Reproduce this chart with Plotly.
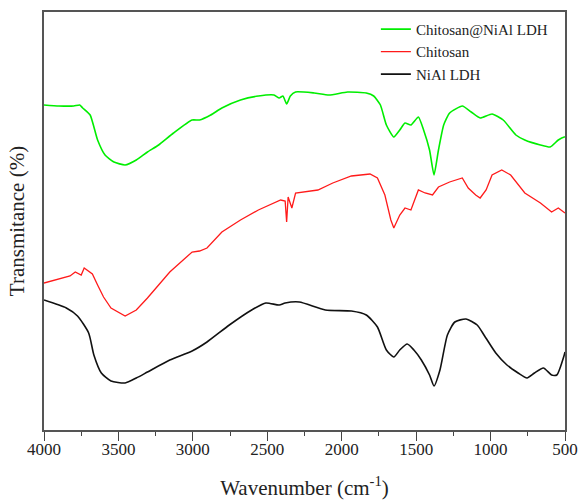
import plotly.graph_objects as go

# FTIR spectra, values (arbitrary transmittance units)
wn_green = [4000, 3900, 3800, 3760, 3740, 3690, 3640, 3590, 3530, 3455, 3380, 3305, 3230,
            3130, 3005, 2955, 2880, 2805, 2680, 2560, 2455, 2420, 2395, 2370, 2345, 2310,
            2185, 2085, 1960, 1835, 1785, 1740, 1700, 1650, 1610, 1575, 1535, 1485, 1450,
            1410, 1380, 1350, 1315, 1275, 1190, 1130, 1070, 990, 915, 830, 770, 665, 600,
            545, 505, 500]
t_green = [325, 324, 324, 325, 322, 315, 290, 275, 268, 265, 270, 278, 285,
           297, 310, 310, 315, 322, 330, 334, 335, 332, 334, 326, 334, 338,
           337, 335, 338, 337, 334, 325, 305, 293, 300, 307, 305, 313, 300,
           280, 255, 280, 305, 317, 324, 318, 312, 316, 310, 295, 290, 285, 283,
           290, 293, 293]

wn_red = [4000, 3900, 3825, 3790, 3750, 3730, 3675, 3640, 3600, 3550, 3455, 3380, 3305,
          3155, 3005, 2955, 2905, 2805, 2680, 2560, 2410, 2380, 2370, 2360, 2335, 2310,
          2160, 2060, 1935, 1810, 1760, 1710, 1670, 1650, 1610, 1575, 1535, 1485, 1440,
          1390, 1350, 1275, 1190, 1150, 1100, 1070, 1030, 990, 925, 865, 770, 665, 590,
          545, 505, 500]
t_red = [147, 151, 154, 158, 155, 162, 156, 145, 133, 122, 114, 120, 132,
         158, 178, 179, 182, 198, 210, 220, 230, 229, 208, 233, 222, 237,
         240, 247, 254, 256, 252, 235, 210, 202, 215, 222, 220, 240, 237,
         235, 243, 248, 252, 242, 235, 232, 240, 255, 260, 255, 237, 227, 218,
         222, 217, 217]

wn_black = [4000, 3850, 3775, 3700, 3665, 3615, 3550, 3455, 3380, 3305, 3155, 3005, 2905,
            2755, 2605, 2510, 2420, 2380, 2285, 2110, 1935, 1835, 1760, 1700, 1650, 1610,
            1560, 1515, 1465, 1410, 1380, 1340, 1290, 1240, 1165, 1090, 1040, 965, 890,
            815, 755, 705, 645, 590, 555, 505, 500]
t_black = [130, 122, 114, 97, 75, 57, 49, 47, 52, 58, 70, 79, 88,
           105, 120, 127, 125, 127, 128, 120, 119, 115, 103, 80, 73, 80,
           86, 80, 70, 55, 44, 60, 95, 108, 111, 105, 94, 77, 65,
           57, 52, 57, 62, 55, 55, 75, 78]

font = "Liberation Serif, Times New Roman, serif"

fig = go.Figure()
fig.add_trace(go.Scatter(x=wn_green, y=t_green, mode="lines", name="Chitosan@NiAl LDH",
                         line=dict(color="#00ee00", width=1.6, shape="spline", smoothing=0.5)))
fig.add_trace(go.Scatter(x=wn_red, y=t_red, mode="lines", name="Chitosan",
                         line=dict(color="#ff1a1a", width=1.3)))
fig.add_trace(go.Scatter(x=wn_black, y=t_black, mode="lines", name="NiAl LDH",
                         line=dict(color="#111111", width=1.6, shape="spline", smoothing=0.6)))

fig.update_layout(
    width=580, height=500,
    margin=dict(l=44, r=15, t=12, b=70),
    paper_bgcolor="white", plot_bgcolor="white",
    font=dict(family=font, color="#222222"),
    showlegend=True,
    legend=dict(x=0.637, y=0.998, xanchor="left", yanchor="top",
                font=dict(size=15, family=font), bgcolor="rgba(0,0,0,0)",
                tracegroupgap=0),
)
fig.update_xaxes(
    range=[4000, 500], tickvals=[4000, 3500, 3000, 2500, 2000, 1500, 1000, 500],
    ticks="outside", ticklen=9, tickwidth=1.3, tickcolor="#444",
    minor=dict(ticks="outside", ticklen=4, dtick=250, tickcolor="#444"),
    showline=True, linecolor="#555", linewidth=1.5, mirror=True,
    showgrid=False, zeroline=False, automargin=False,
    ticklabeloverflow="allow", ticklabelstandoff=-6,
    tickfont=dict(size=17, family=font),
    title=dict(text="Wavenumber (cm<sup>-1</sup>)", font=dict(size=21, family=font), standoff=24),
)
fig.update_yaxes(
    range=[0, 418], showticklabels=False, ticks="",
    showline=True, linecolor="#555", linewidth=1.5, mirror=True,
    showgrid=False, zeroline=False, automargin=False,
    title=dict(text="Transmitance (%)", font=dict(size=21, family=font), standoff=12),
)

# drop the default 8px page margin so the 580x500 figure fills the window
fig.write_html("out.html", config={"displayModeBar": False},
               post_script="document.body.style.margin='0';document.body.style.overflow='hidden';")
